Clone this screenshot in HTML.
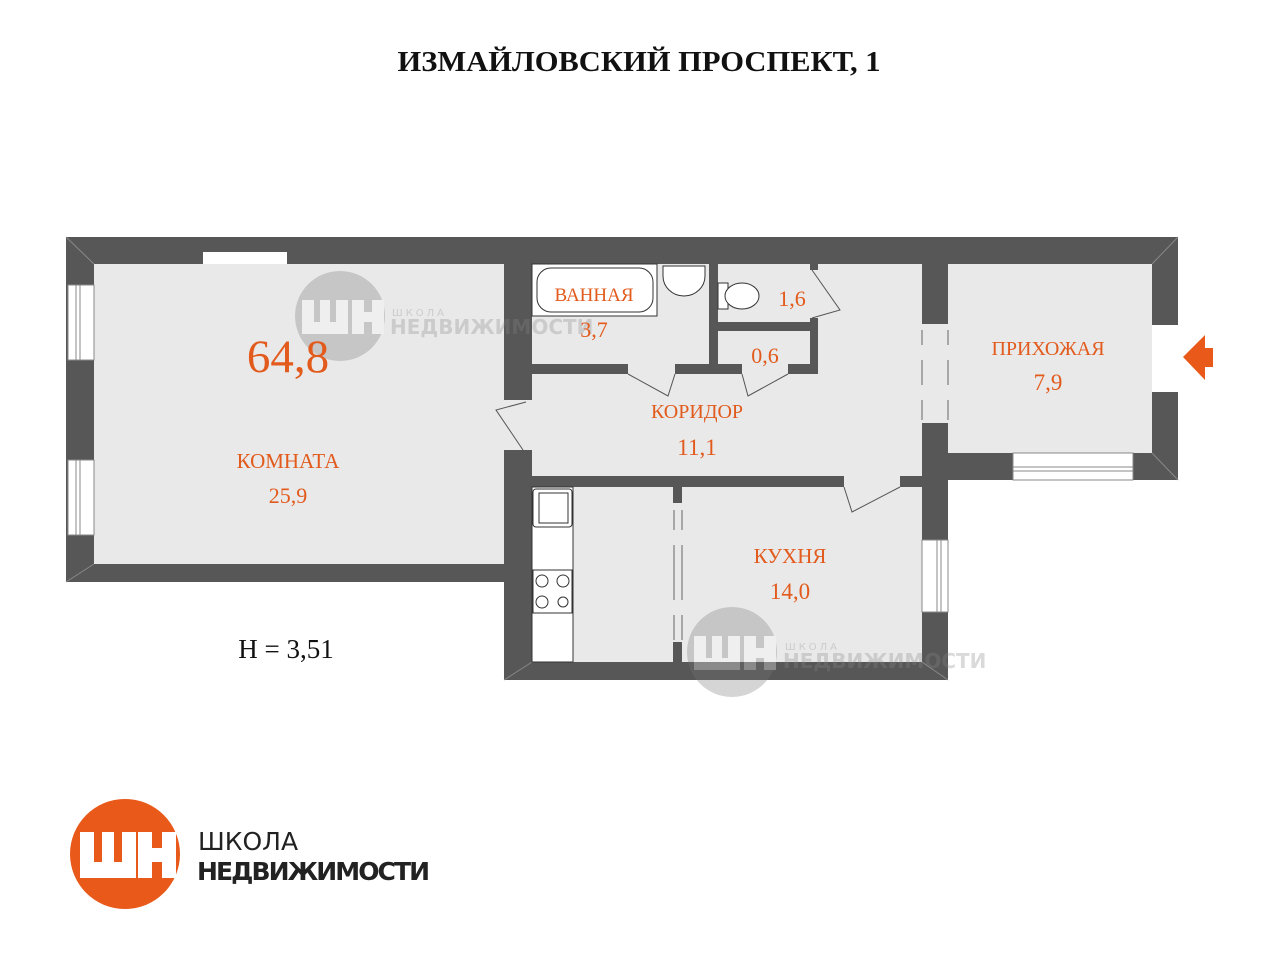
<!DOCTYPE html>
<html><head><meta charset="utf-8"><style>
html,body{margin:0;padding:0;background:#fff;width:1280px;height:960px;overflow:hidden}
svg{display:block}
.t{font-family:"Liberation Serif",serif;fill:#e25a1c;text-anchor:middle}
</style></head><body>
<svg width="1280" height="960" viewBox="0 0 1280 960" xmlns="http://www.w3.org/2000/svg">
<text x="639" y="71" font-family="Liberation Serif,serif" font-weight="bold" font-size="29" text-anchor="middle" fill="#111" textLength="483" lengthAdjust="spacingAndGlyphs">ИЗМАЙЛОВСКИЙ ПРОСПЕКТ, 1</text>
<!-- floors -->
<g fill="#e9e9e9">
<rect x="94" y="264" width="412" height="300"/>
<rect x="532" y="264" width="390" height="212"/>
<rect x="504" y="400" width="30" height="50"/>
<rect x="532" y="474" width="390" height="188"/>
<rect x="948" y="264" width="204" height="189"/>
<rect x="922" y="324" width="26" height="99"/>
</g>
<!-- walls -->
<g fill="#575757">
<rect x="66" y="237" width="1112" height="27"/>
<rect x="66" y="237" width="28" height="345"/>
<rect x="66" y="564" width="440" height="18"/>
<rect x="504" y="264" width="28" height="136"/>
<rect x="504" y="450" width="28" height="230"/>
<rect x="504" y="662" width="444" height="18"/>
<rect x="922" y="264" width="26" height="60"/>
<rect x="922" y="423" width="26" height="257"/>
<rect x="1152" y="237" width="26" height="88"/>
<rect x="1152" y="392" width="26" height="88"/>
<rect x="948" y="453" width="230" height="27"/>
<rect x="532" y="476" width="312" height="11"/>
<rect x="900" y="476" width="22" height="11"/>
<rect x="532" y="364" width="96" height="10"/>
<rect x="675" y="364" width="67" height="10"/>
<rect x="788" y="364" width="30" height="10"/>
<rect x="709" y="264" width="9" height="110"/>
<rect x="718" y="322" width="100" height="9"/>
<rect x="810" y="318" width="8" height="56"/>
<rect x="810" y="264" width="8" height="6"/>
<rect x="673" y="487" width="9" height="16"/>
<rect x="673" y="642" width="9" height="20"/>
</g>
<g stroke="#888" stroke-width="1" fill="none">
<line x1="66" y1="237" x2="94" y2="264"/><line x1="66" y1="582" x2="94" y2="564"/>
<line x1="1178" y1="237" x2="1152" y2="264"/><line x1="1178" y1="480" x2="1152" y2="453"/>
<line x1="504" y1="680" x2="532" y2="662"/><line x1="948" y1="680" x2="922" y2="662"/>
</g>
<!-- windows -->
<g fill="#fff" stroke="#888" stroke-width="1">
<rect x="203" y="252" width="84" height="12" stroke="none"/>
<rect x="68" y="285" width="26" height="75"/><line x1="76" y1="285" x2="76" y2="360"/><line x1="80" y1="285" x2="80" y2="360"/>
<rect x="68" y="460" width="26" height="75"/><line x1="76" y1="460" x2="76" y2="535"/><line x1="80" y1="460" x2="80" y2="535"/>
<rect x="922" y="540" width="26" height="72"/><line x1="937" y1="540" x2="937" y2="612"/><line x1="941" y1="540" x2="941" y2="612"/>
<rect x="1013" y="453" width="120" height="27"/><line x1="1013" y1="467" x2="1133" y2="467"/><line x1="1013" y1="471" x2="1133" y2="471"/>
<rect x="1152" y="325" width="26" height="67" stroke="none"/>
</g>
<g stroke="#666" stroke-width="1">
<line x1="922" y1="330" x2="922" y2="345"/><line x1="922" y1="360" x2="922" y2="385"/><line x1="922" y1="400" x2="922" y2="420"/>
<line x1="948" y1="330" x2="948" y2="345"/><line x1="948" y1="360" x2="948" y2="385"/><line x1="948" y1="400" x2="948" y2="420"/>
<line x1="674" y1="510" x2="674" y2="530"/><line x1="674" y1="545" x2="674" y2="600"/><line x1="674" y1="615" x2="674" y2="640"/>
<line x1="682" y1="510" x2="682" y2="530"/><line x1="682" y1="545" x2="682" y2="600"/><line x1="682" y1="615" x2="682" y2="640"/>
</g>
<g stroke="#555" stroke-width="1" fill="none">
<polyline points="526,402 496,410 523,450"/>
<polyline points="628,374 668,396 675,374"/>
<polyline points="742,374 748,396 788,374"/>
<polyline points="844,487 852,512 900,487"/>
<polyline points="812,270 840,310 812,318"/>
</g>
<g stroke="#333" stroke-width="1" fill="#fff">
<rect x="532" y="264" width="125" height="52"/>
<rect x="537" y="268" width="116" height="44" rx="14"/>
<path d="M663 266 h42 v10 a21 20 0 0 1 -42 0z"/>
<rect x="718" y="283" width="10" height="26"/>
<ellipse cx="742" cy="296" rx="17" ry="13"/>
<rect x="532" y="487" width="41" height="175"/>
<rect x="533" y="489" width="39" height="38" rx="3"/><rect x="539" y="493" width="29" height="30"/>
<rect x="533" y="570" width="39" height="43"/>
<circle cx="542" cy="581" r="6"/><circle cx="563" cy="581" r="6"/><circle cx="542" cy="602" r="6"/><circle cx="563" cy="602" r="5"/>
</g>
<!-- watermarks -->
<g opacity="0.3">
<circle cx="340" cy="316" r="45" fill="#777"/>
<path d="M302 300 h12 v22 h6 v-22 h10 v22 h6 v-22 h12 v34 h-46z M352 300 h12 v12 h8 v-12 h12 v34 h-12 v-12 h-8 v12 h-12z" fill="#fff"/>
<text x="392" y="316" font-family="DejaVu Sans,sans-serif" font-size="10" fill="#888" letter-spacing="3">ШКОЛА</text>
<text x="390" y="334" font-family="DejaVu Sans,sans-serif" font-weight="bold" font-size="20" fill="#888">НЕДВИЖИМОСТИ</text>
<circle cx="732" cy="652" r="45" fill="#777"/>
<path d="M694 636 h12 v22 h6 v-22 h10 v22 h6 v-22 h12 v34 h-46z M744 636 h12 v12 h8 v-12 h12 v34 h-12 v-12 h-8 v12 h-12z" fill="#fff"/>
<text x="785" y="650" font-family="DejaVu Sans,sans-serif" font-size="10" fill="#888" letter-spacing="3">ШКОЛА</text>
<text x="783" y="668" font-family="DejaVu Sans,sans-serif" font-weight="bold" font-size="20" fill="#888">НЕДВИЖИМОСТИ</text>
</g>
<!-- labels -->
<text class="t" x="288" y="372" font-size="47">64,8</text>
<text class="t" x="288" y="468" font-size="21">КОМНАТА</text>
<text class="t" x="288" y="503" font-size="22">25,9</text>
<text class="t" x="594" y="301" font-size="19">ВАННАЯ</text>
<text class="t" x="594" y="337" font-size="22">3,7</text>
<text class="t" x="792" y="306" font-size="22">1,6</text>
<text class="t" x="765" y="363" font-size="22">0,6</text>
<text class="t" x="697" y="418" font-size="20">КОРИДОР</text>
<text class="t" x="697" y="455" font-size="23">11,1</text>
<text class="t" x="1048" y="355" font-size="20">ПРИХОЖАЯ</text>
<text class="t" x="1048" y="390" font-size="23">7,9</text>
<text class="t" x="790" y="563" font-size="21">КУХНЯ</text>
<text class="t" x="790" y="599" font-size="23">14,0</text>
<text x="286" y="658" font-family="Liberation Serif,serif" font-size="27" text-anchor="middle" fill="#111">H = 3,51</text>
<polygon points="1183,357 1205,335 1205,348 1213,348 1213,367 1205,367 1205,380" fill="#e8591a"/>
<!-- logo -->
<circle cx="125" cy="854" r="55" fill="#e8591a"/>
<path d="M80 832 h14 v30 h8 v-30 h12 v30 h8 v-30 h14 v46 h-56z M138 832 h14 v16 h10 v-16 h14 v46 h-14 v-16 h-10 v16 h-14z" fill="#fff"/>
<text x="198" y="850" font-family="DejaVu Sans,sans-serif" font-size="25" fill="#222">ШКОЛА</text>
<text x="197" y="880" font-family="DejaVu Sans,sans-serif" font-weight="bold" font-size="25" fill="#222" textLength="233">НЕДВИЖИМОСТИ</text>
</svg>
</body></html>
